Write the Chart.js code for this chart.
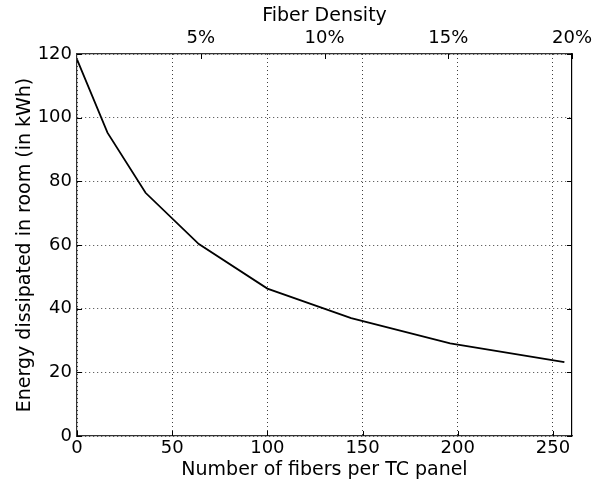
<!DOCTYPE html>
<html>
<head>
<meta charset="utf-8">
<script src="https://cdn.jsdelivr.net/npm/chart.js@4.4.0/dist/chart.umd.min.js"></script>
<style>
  html, body { margin: 0; padding: 0; background: #fff; }
  #wrap { width: 602px; height: 485px; position: relative; }
</style>
</head>
<body>
<div id="wrap"><canvas id="grafico"></canvas></div>
<script>
// data
const fibers = [0, 16, 36, 64, 100, 144, 196, 256];
const energy = [118.3, 95.3, 76.4, 60.3, 46.3, 37.0, 29.1, 23.2];
const densityTicks = [5, 10, 15, 20];   // percent, top axis
const fibersTicks = [0, 50, 100, 150, 200, 250];
const energyTicks = [0, 20, 40, 60, 80, 100, 120];

const FONT = 'DejaVu Sans';

// short inward tick marks on all four sides, like matplotlib classic
const inwardTicks = {
    id: 'inwardTicks',
    afterDraw(chart) {
        const ctx = chart.ctx;
        const a = chart.chartArea;
        const len = 5;
        ctx.save();
        ctx.strokeStyle = '#000';
        ctx.lineWidth = 1;
        ctx.beginPath();
        chart.scales.x.ticks.forEach(t => {
            const px = Math.round(chart.scales.x.getPixelForValue(t.value)) + 0.5;
            ctx.moveTo(px, a.bottom); ctx.lineTo(px, a.bottom - len);
        });
        chart.scales.xTop.ticks.forEach(t => {
            if (t.value === 0) return;
            const px = Math.round(chart.scales.xTop.getPixelForValue(t.value)) + 0.5;
            ctx.moveTo(px, a.top); ctx.lineTo(px, a.top + len);
        });
        chart.scales.y.ticks.forEach(t => {
            const py = Math.round(chart.scales.y.getPixelForValue(t.value)) + 0.5;
            ctx.moveTo(a.left, py); ctx.lineTo(a.left + len, py);
            ctx.moveTo(a.right, py); ctx.lineTo(a.right - len, py);
        });
        ctx.stroke();
        ctx.restore();
    }
};

document.addEventListener('DOMContentLoaded', function() {
    const ctx = document.getElementById('grafico');
    new Chart(ctx, {
        type: 'line',
        data: {
            datasets: [{
                data: fibers.map((f, i) => ({ x: f, y: energy[i] })),
                borderColor: '#000',
                borderWidth: 1.8,
                pointRadius: 0,
                tension: 0,
                fill: false
            }]
        },
        options: {
            responsive: true,
            maintainAspectRatio: false,
            animation: false,
            layout: { padding: { left: 0, right: 30, top: 0, bottom: 0 } },
            plugins: {
                legend: { display: false },
                tooltip: { enabled: false }
            },
            scales: {
                x: {
                    type: 'linear',
                    position: 'bottom',
                    min: 0,
                    max: 260,
                    afterBuildTicks: s => { s.ticks = fibersTicks.map(v => ({ value: v })); },
                    afterFit: s => { s.height = 49; },
                    grid: {
                        color: 'rgba(0,0,0,0.75)',
                        lineWidth: 1,
                        drawTicks: false
                    },
                    border: { color: '#333', width: 1.2, dash: [1, 3] },
                    ticks: {
                        color: '#000',
                        padding: 2,
                        maxRotation: 0,
                        font: { family: FONT, size: 18 }
                    },
                    title: {
                        display: true,
                        text: 'Number of fibers per TC panel',
                        color: '#000',
                        padding: { top: 0 },
                        font: { family: FONT, size: 19 }
                    }
                },
                xTop: {
                    type: 'linear',
                    position: 'top',
                    min: 0,
                    max: 20,
                    afterBuildTicks: s => { s.ticks = [0].concat(densityTicks).map(v => ({ value: v })); },
                    afterFit: s => { s.height = 54; },
                    grid: { drawOnChartArea: false, drawTicks: false },
                    border: { color: '#333', width: 1.2 },
                    ticks: {
                        color: '#000',
                        padding: 5,
                        maxRotation: 0,
                        font: { family: FONT, size: 18 },
                        callback: v => v === 0 ? '' : v + '%'
                    },
                    title: {
                        display: true,
                        text: 'Fiber Density',
                        color: '#000',
                        padding: { bottom: 0, top: 5 },
                        font: { family: FONT, size: 19 }
                    }
                },
                y: {
                    min: 0,
                    max: 120,
                    afterBuildTicks: s => { s.ticks = energyTicks.map(v => ({ value: v })); },
                    afterFit: s => { s.width = 77; },
                    grid: {
                        color: 'rgba(0,0,0,0.75)',
                        lineWidth: 1,
                        drawTicks: false
                    },
                    border: { color: '#333', width: 1.2, dash: [1, 3] },
                    ticks: {
                        color: '#000',
                        padding: 5,
                        font: { family: FONT, size: 18 }
                    },
                    title: {
                        display: true,
                        text: 'Energy dissipated in room (in kWh)',
                        color: '#000',
                        padding: { top: 14, bottom: 2 },
                        font: { family: FONT, size: 19 }
                    }
                },
                yRight: {
                    position: 'right',
                    min: 0,
                    max: 120,
                    afterFit: s => { s.width = 0; },
                    grid: { drawOnChartArea: false, drawTicks: false },
                    border: { color: '#000', width: 1.2 },
                    ticks: { display: false }
                }
            }
        },
        plugins: [inwardTicks]
    });
});
</script>
</body>
</html>
